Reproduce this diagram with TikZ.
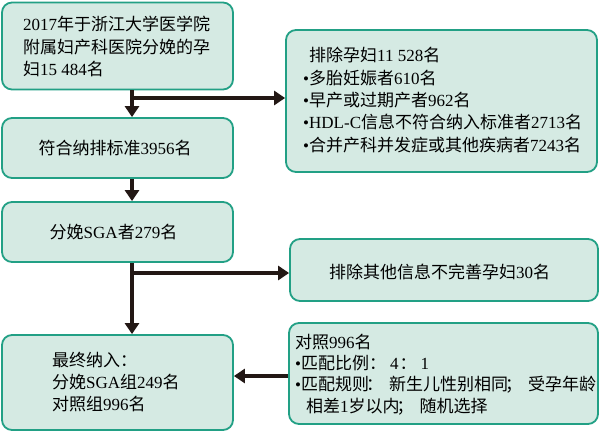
\documentclass[tikz,border=0pt]{standalone}
\usepackage{fontspec}
\setmainfont{Noto Sans CJK SC}
\newfontfamily\lat{Liberation Serif}
\usetikzlibrary{arrows.meta}
\definecolor{boxfill}{HTML}{D5EAE3}
\definecolor{boxline}{HTML}{22A085}
\definecolor{arrcol}{HTML}{231815}
\newcommand{\pc}[1]{\makebox[20pt][l]{\hspace{-3pt}#1}}
\begin{document}
\begin{tikzpicture}[x=1pt,y=-1pt,
  box/.style={draw=boxline,fill=boxfill,line width=1.8pt,rounded corners=10pt,inner sep=0pt},
  txt/.style={font=\fontsize{17pt}{22.3pt}\selectfont,text=black,inner sep=0pt},
  arr/.style={draw=arrcol,line width=4pt,-{Triangle[length=11pt,width=14pt]}}]
\useasboundingbox (0,0) rectangle (602,436);
% boxes
\node[box,minimum width=231pt,minimum height=87pt] (b1) at (117.5,46) {};
\node[box,minimum width=311pt,minimum height=142pt] (b2) at (441.5,101) {};
\node[box,minimum width=231pt,minimum height=60pt] (b3) at (117.5,148) {};
\node[box,minimum width=231pt,minimum height=60pt] (b4) at (117.5,232) {};
\node[box,minimum width=308pt,minimum height=62pt] (b5) at (444,270) {};
\node[box,minimum width=231pt,minimum height=95pt] (b6) at (117.5,382.5) {};
\node[box,minimum width=309pt,minimum height=101pt] (b7) at (443.5,373.5) {};
% texts
\node[txt,anchor=west,align=left] (t1) at (23,46.5)
 {{\lat 2017}年于浙江大学医学院\\附属妇产科医院分娩的孕\\妇{\lat 15 484}名};
\node[txt,anchor=west,align=left] (t2) at (303,100)
 {\hspace{6pt}排除孕妇{\lat 11 528}名\\{\lat •}多胎妊娠者{\lat 610}名\\{\lat •}早产或过期产者{\lat 962}名\\{\lat •HDL-C}信息不符合纳入标准者{\lat 2713}名\\{\lat •}合并产科并发症或其他疾病者{\lat 7243}名};
\node[txt] (t3) at (115,148) {符合纳排标准{\lat 3956}名};
\node[txt] (t4) at (113.5,232) {分娩{\lat SGA}者{\lat 279}名};
\node[txt] (t5) at (439.5,272) {排除其他信息不完善孕妇{\lat 30}名};
\node[txt,anchor=west,align=left] (t6) at (52,382)
 {最终纳入：\\分娩{\lat SGA}组{\lat 249}名\\对照组{\lat 996}名};
\node[txt,anchor=west,align=left,font=\fontsize{17pt}{21.2pt}\selectfont] (t7) at (295,374.5)
 {对照{\lat 996}名\\{\lat •}匹配比例：\hspace{4pt}{\lat 4}\hspace{1pt}：\hspace{4pt}{\lat 1}\\{\lat •}匹配规则\pc{：}新生儿性别相同\pc{；}受孕年龄\\\hspace{11pt}相差{\lat 1}岁以内\pc{；}随机选择};
% connectors
\coordinate (j1) at (132,98);
\coordinate (j2) at (132,273);
\coordinate (j3) at (0,376);
\draw[arr] (b1.south -| j1) -- (b3.north -| j1);
\draw[arr] (j1) -- (b2.west |- j1);
\draw[arr] (b3.south -| j1) -- (b4.north -| j1);
\draw[arr] (b4.south -| j2) -- (b6.north -| j2);
\draw[arr] (j2) -- (b5.west |- j2);
\draw[arr] (b7.west |- j3) -- (b6.east |- j3);
\end{tikzpicture}
\end{document}
